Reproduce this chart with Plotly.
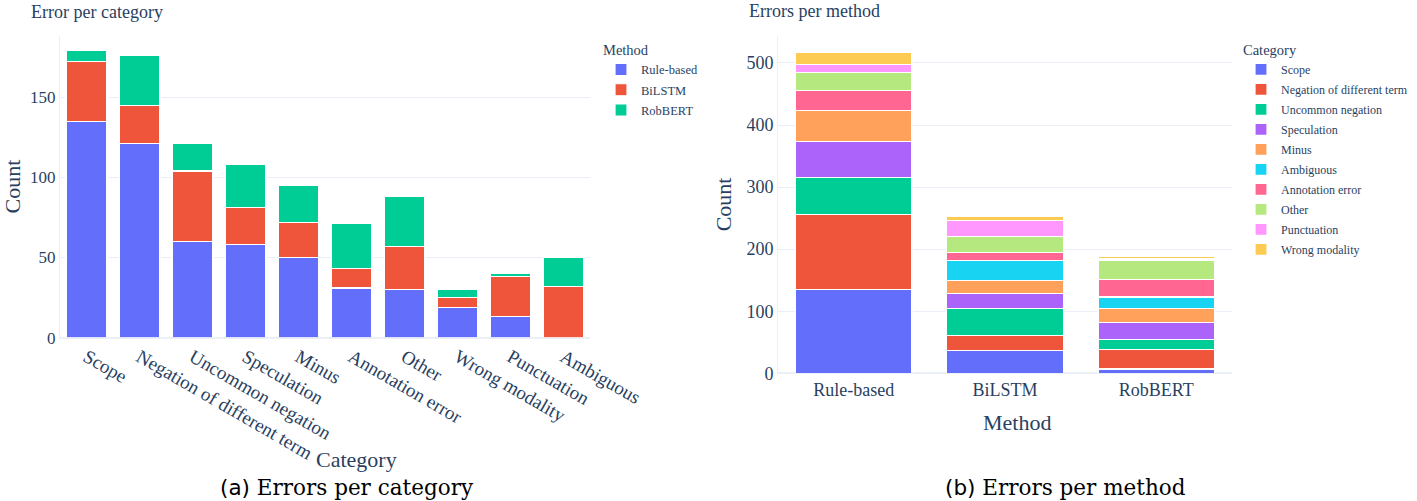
import plotly.graph_objects as go

methods = ["Rule-based", "BiLSTM", "RobBERT"]
categories = ["Scope", "Negation of different term", "Uncommon negation", "Speculation",
              "Minus", "Ambiguous", "Annotation error", "Other", "Punctuation", "Wrong modality"]
# counts per category for each method
rule_based = [135, 121, 60, 58, 50, 0, 31, 30, 13, 19]
bilstm     = [37, 24, 44, 23, 22, 32, 12, 27, 25, 6]
robbert    = [7, 31, 17, 27, 23, 18, 28, 31, 2, 5]
# order of categories on the x axis of the left chart
left_order = ["Scope", "Negation of different term", "Uncommon negation", "Speculation",
              "Minus", "Annotation error", "Other", "Wrong modality", "Punctuation", "Ambiguous"]

method_colors = ["#636EFA", "#EF553B", "#00CC96"]
cat_colors = ["#636EFA", "#EF553B", "#00CC96", "#AB63FA", "#FFA15A",
              "#19D3F3", "#FF6692", "#B6E880", "#FF97FF", "#FECB52"]

W, H = 1417, 501
def px(x): return x / W
def py(y): return (H - y) / H

FONT = "Liberation Serif"
TXT = "#2a3f5f"

series = [rule_based, bilstm, robbert]
fig = go.Figure()
for m, vals, col in zip(methods, series, method_colors):
    d = dict(zip(categories, vals))
    fig.add_trace(go.Bar(x=left_order, y=[d[c] for c in left_order], name=m,
                         legendgroup="m_" + m,
                         marker=dict(color=col, line=dict(color="white", width=1.2)),
                         xaxis="x", yaxis="y", legend="legend"))
for i, (c, col) in enumerate(zip(categories, cat_colors)):
    fig.add_trace(go.Bar(x=methods, y=[s[i] for s in series], name=c,
                         legendgroup="c_" + c,
                         marker=dict(color=col, line=dict(color="white", width=1.2)),
                         xaxis="x2", yaxis="y2", legend="legend2"))

axis_common = dict(gridcolor="#EBF0F8", zerolinecolor="#EBF0F8", zerolinewidth=2,
                   linecolor="#EBF0F8", automargin=False, color=TXT)

CAP = dict(size=21.5, color="black", family="DejaVu Serif")

fig.update_layout(
    template="plotly_white",
    width=W, height=H,
    margin=dict(l=0, r=0, t=0, b=0),
    barmode="stack", bargap=0.23,
    font=dict(family=FONT, color=TXT),
    plot_bgcolor="white", paper_bgcolor="white",
    xaxis=dict(domain=[px(60), px(590)], anchor="y", tickangle=30, showgrid=False,
               tickfont=dict(size=19), **axis_common),
    yaxis=dict(domain=[py(337.7), py(35.5)], anchor="x", dtick=50,
               tickfont=dict(size=17),
               title=dict(text="Count", font=dict(size=22), standoff=8), **axis_common),
    xaxis2=dict(domain=[px(778), px(1232)], anchor="y2", showgrid=False,
                tickfont=dict(size=18), **axis_common),
    yaxis2=dict(domain=[py(373.3), py(35.5)], anchor="x2", dtick=100,
                tickfont=dict(size=18),
                title=dict(text="Count", font=dict(size=22), standoff=8), **axis_common),
    legend=dict(title=dict(text="Method", font=dict(size=14.5)), font=dict(size=12.5),
                x=px(601), y=py(36), xanchor="left", yanchor="top",
                traceorder="grouped", tracegroupgap=1),
    legend2=dict(title=dict(text="Category", font=dict(size=14.5)), font=dict(size=12),
                 x=px(1241), y=py(36), xanchor="left", yanchor="top",
                 traceorder="grouped", tracegroupgap=1),
    annotations=[
        dict(text="Error per category", x=px(29), y=py(12), xref="paper", yref="paper",
             xanchor="left", yanchor="middle", showarrow=False, font=dict(size=18)),
        dict(text="Errors per method", x=px(747), y=py(11), xref="paper", yref="paper",
             xanchor="left", yanchor="middle", showarrow=False, font=dict(size=18)),
        dict(text="Category", x=px(356), y=py(459), xref="paper", yref="paper",
             xanchor="center", yanchor="middle", showarrow=False, font=dict(size=22)),
        dict(text="Method", x=px(1017), y=py(422), xref="paper", yref="paper",
             xanchor="center", yanchor="middle", showarrow=False, font=dict(size=22)),
        dict(text='<span style="font-family:DejaVu Sans">(a)</span> Errors per category',
             x=px(347), y=py(487), xref="paper", yref="paper",
             xanchor="center", yanchor="middle", showarrow=False, font=CAP),
        dict(text='<span style="font-family:DejaVu Sans">(b)</span> Errors per method',
             x=px(1065), y=py(487), xref="paper", yref="paper",
             xanchor="center", yanchor="middle", showarrow=False, font=CAP),
    ],
)

fig.write_html("out.html", config={"displayModeBar": False},
               post_script="document.body.style.margin='0';document.body.style.overflow='hidden';")
